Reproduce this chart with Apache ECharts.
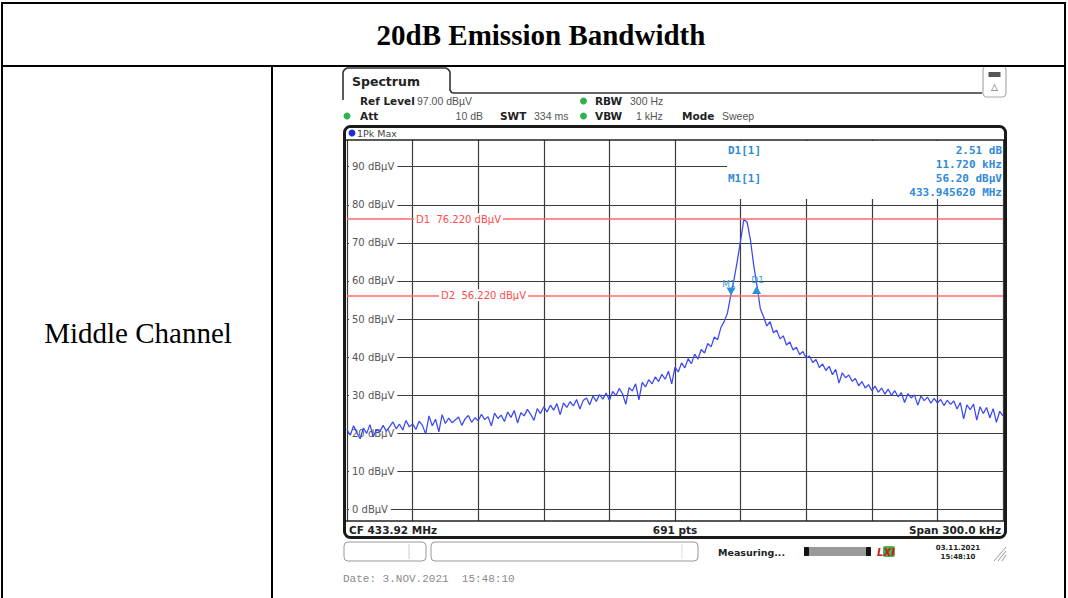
<!DOCTYPE html>
<html><head><meta charset="utf-8">
<script src="https://cdn.jsdelivr.net/npm/echarts@6/dist/echarts.min.js"></script>
<style>html,body{margin:0;padding:0;background:#fff;}#c{width:1068px;height:598px;}</style>
</head><body><div id="c"></div>
<script>
// ---------- data ----------
const titleText = '20dB Emission Bandwidth';
const rowLabel = 'Middle Channel';
const startKHz = -150;      // CF 433.92 MHz, span 300 kHz
const stepKHz = 1.5;
const level = [
 21.0,19.5,22.0,20.2,18.6,21.4,20.0,22.3,19.1,21.0,
 20.4,22.1,20.6,21.8,23.0,21.2,22.4,20.9,23.4,21.7,
 22.5,21.0,23.2,22.1,19.8,24.6,22.0,23.7,20.4,24.9,
 22.6,24.0,22.8,23.5,24.3,22.1,23.8,24.7,22.9,24.1,
 23.3,25.0,23.6,24.4,22.0,25.3,23.9,24.8,23.1,25.6,
 24.2,26.0,22.7,25.4,24.6,26.3,25.0,23.4,26.5,25.2,
 27.0,25.6,27.4,26.1,27.8,24.9,28.0,26.8,28.3,27.2,
 28.9,26.4,28.6,29.3,27.5,29.8,28.4,30.2,29.0,30.6,
 28.7,31.0,29.9,31.8,30.4,27.6,32.0,31.1,33.0,28.8,
 33.4,32.2,34.1,33.0,34.8,33.6,35.5,34.2,36.3,33.0,
 37.4,36.1,38.5,37.2,39.6,38.3,40.8,39.5,42.0,41.1,
 43.6,42.7,45.3,44.6,47.8,49.4,51.6,56.2,60.4,65.3,
 70.6,76.2,75.4,70.8,64.1,58.7,52.8,50.6,48.2,49.3,
 46.4,47.1,44.8,45.6,43.2,44.0,41.9,42.6,40.7,41.5,
 39.8,40.3,38.6,39.4,37.3,38.2,36.5,37.6,35.4,36.8,
 33.2,35.9,34.6,35.3,33.7,34.4,32.5,33.6,31.9,32.8,
 31.2,32.4,30.8,31.9,30.3,31.6,30.0,31.2,29.6,30.7,
 28.1,30.4,29.3,30.1,27.4,29.8,28.6,29.5,27.9,29.2,
 28.0,28.9,27.3,28.7,27.6,28.5,26.4,28.1,23.8,27.5,
 26.2,27.7,23.5,27.0,25.2,26.8,24.1,26.5,22.9,25.8,
 24.6
];
const yTicks = [0,10,20,30,40,50,60,70,80,90];
const displayLineNames = ['D1','D2'];
const displayLineValues = [76.22, 56.22];
const markerNames = ['M1','D1'];
const markerFreqKHz = [25.62, 37.34];
const markerLevel = [56.20, 58.71];
const markerInfoLeft = ['D1[1]','','M1[1]',''];
const markerInfoRight = ['2.51 dB','11.720 kHz','56.20 dBµV','433.945620 MHz'];

// ---------- helpers ----------
const SANS = '"DejaVu Sans"';
const VAL = '10.5px "Liberation Sans"';
function T(x,y,text,font,fill,align,va,z){return {type:'text',x:x,y:y,z:z||20,silent:true,style:{text:text,font:font,fill:fill||'#222',align:align||'left',verticalAlign:va||'middle'}};}
function L(x1,y1,x2,y2,stroke,w,z){return {type:'line',z:z||20,silent:true,shape:{x1:x1,y1:y1,x2:x2,y2:y2},style:{stroke:stroke||'#000',lineWidth:w||1}};}
function R(x,y,w,h,r,stroke,lw,fill,z){return {type:'rect',z:z||20,silent:true,shape:{x:x,y:y,width:w,height:h,r:r||0},style:{stroke:stroke||null,lineWidth:lw||1,fill:fill||'none'}};}
function C(cx,cy,r,fill,z){return {type:'circle',z:z||20,silent:true,shape:{cx:cx,cy:cy,r:r},style:{fill:fill}};}

const g = [];
// table
g.push(R(2,3,1063,610,0,'#000',2,'none',30));
g.push(L(2,66,1065,66,'#000',2,30));
g.push(L(272,66,272,598,'#000',2,30));
g.push(T(541,35,titleText,'bold 29px "Liberation Serif"','#000','center','middle',30));
g.push(T(138,333,rowLabel,'29px "Liberation Serif"','#000','center','middle',30));

// tab + header
g.push({type:'polyline',z:20,silent:true,shape:{points:[[343,100],[343,72],[344.5,69.5],[347,68],[446,68],[448.5,69.5],[450,72],[450,90],[451.5,92.5],[454,93],[982,93]]},style:{stroke:'#333',lineWidth:1.6,fill:null}});
g.push(T(352,81,'Spectrum','bold 12.5px '+SANS,'#222'));
g.push(R(983,66,23,31,4,'#aaa',1.2,'#fff'));
g.push(R(988.5,72,12,5,0,null,1,'#555'));
g.push(T(994.5,87,'△','9px '+SANS,'#555','center'));

g.push(T(360,101,'Ref Level','bold 10.5px '+SANS,'#222'));
g.push(T(417,101,'97.00 dBµV',VAL,'#555'));
g.push(C(583.5,101,3.5,'#33b050'));
g.push(T(595,101,'RBW','bold 10.5px '+SANS,'#222'));
g.push(T(630,101,'300 Hz',VAL,'#555'));
g.push(C(347,116,3.5,'#33b050'));
g.push(T(360,116,'Att','bold 10.5px '+SANS,'#222'));
g.push(T(483,116,'10 dB',VAL,'#555','right'));
g.push(T(500,116,'SWT','bold 10.5px '+SANS,'#222'));
g.push(T(534,116,'334 ms',VAL,'#555'));
g.push(C(583.5,116,3.5,'#33b050'));
g.push(T(595,116,'VBW','bold 10.5px '+SANS,'#222'));
g.push(T(636,116,'1 kHz',VAL,'#555'));
g.push(T(682,116,'Mode','bold 10.5px '+SANS,'#222'));
g.push(T(722,116,'Sweep',VAL,'#555'));

// display frame
g.push(R(344.5,126.5,661,411,6,'#1a1a1a',3,'none',25));
g.push(L(346,140,1004,140,'#222',1.5,25));
g.push(L(346,521,1004,521,'#222',1.5,25));
g.push(C(352,133,3.5,'#1a2fd8',25));
g.push(T(357,133,'1Pk Max','9.5px '+SANS,'#444','left','middle',25));
g.push(T(349,529.5,'CF 433.92 MHz','bold 10.5px '+SANS,'#222','left','middle',25));
g.push(T(675,529.5,'691 pts','bold 10.5px '+SANS,'#222','center','middle',25));
g.push(T(1001,529.5,'Span 300.0 kHz','bold 10.5px '+SANS,'#222','right','middle',25));

// marker info box
g.push(R(727,141,276,58,0,null,1,'#fff',6));
for (let i=0;i<4;i++){
  const y = 150 + i*14.3;
  if (markerInfoLeft[i]) g.push(T(728,y,markerInfoLeft[i],'bold 11px "DejaVu Sans Mono"','#2f8ad8','left','middle',7));
  g.push(T(1002,y,markerInfoRight[i],'bold 11px "DejaVu Sans Mono"','#2f8ad8','right','middle',7));
}

// status bar
g.push(R(344,542,82,19,4,'#999',1,'#fff'));
g.push(L(409,544,409,559,'#ccc',1));
g.push(R(431,542,267,19,4,'#999',1,'#fff'));
g.push(L(682,544,682,559,'#ddd',1));
g.push(T(718,552,'Measuring...','bold 9.5px '+SANS,'#222'));
g.push(R(804,547,67,9,1,null,1,'#9a9a9a'));
g.push(R(804,547,5,9,1,null,1,'#111'));
g.push(R(866,547,5,9,1,null,1,'#111'));
g.push(R(883,546,12,11,2,null,1,'#4caf50'));
g.push(T(886,552,'LXI','italic bold 10px '+SANS,'#c0201e','center'));
g.push(T(958,548,'03.11.2021','bold 7px '+SANS,'#222','center'));
g.push(T(958,556.5,'15:48:10','bold 7px '+SANS,'#222','center'));
g.push(L(1006,547,994,561,'#999',1));
g.push(L(1006,551,998,561,'#999',1));
g.push(L(1006,555,1002,561,'#999',1));
g.push(T(343,579,'Date: 3.NOV.2021  15:48:10','11px "Liberation Mono"','#8a8a8a'));

// ---------- chart ----------
const traceData = level.map((v,i)=>[startKHz + i*stepKHz, v]);
const chart = echarts.init(document.getElementById('c'), null, {renderer:'svg'});
chart.setOption({
  animation:false,
  backgroundColor:'#fff',
  grid:{left:347, top:140, width:656, height:381, containLabel:false},
  xAxis:{type:'value', min:-150, max:150, interval:30,
    axisLine:{show:false}, axisTick:{show:false}, axisLabel:{show:false},
    splitLine:{show:true, lineStyle:{color:'#3c3c3c', width:1.2}}},
  yAxis:{type:'value', min:-3, max:97,
    axisLine:{show:false},
    axisTick:{show:false, customValues:yTicks},
    axisLabel:{show:true, inside:true, margin:2, customValues:yTicks,
      formatter:v=>v+' dBµV', color:'#555', fontSize:10, fontFamily:'DejaVu Sans',
      backgroundColor:'#fff', padding:[1,3,1,3]},
    splitLine:{show:true, lineStyle:{color:'#3c3c3c', width:1.2}}},
  graphic:{elements:g},
  series:[{
    type:'line', data:traceData, showSymbol:false, symbol:'none', z:3,
    lineStyle:{color:'#3848f4', width:1.25},
    markLine:{
      silent:true, symbol:'none', animation:false,
      lineStyle:{color:'#ff6a6a', width:1.5, type:'solid'},
      label:{show:true, position:'insideStartTop', color:'#ff4a4a', fontSize:10, fontFamily:'DejaVu Sans',
        backgroundColor:'#fff', padding:[1,2,1,2]},
      data: displayLineNames.map((n,i)=>({yAxis:displayLineValues[i],
        label:{formatter:n+'  '+displayLineValues[i].toFixed(3)+' dBµV', distance:[i===0?67:92,-6]}}))
    },
    markPoint:{
      silent:true, animation:false,
      data: markerNames.map((n,i)=>({
        coord:[markerFreqKHz[i], markerLevel[i]],
        symbol:'triangle', symbolSize:[9,8],
        symbolRotate: i===0?180:0,
        symbolOffset:[0, i===0?-4:4],
        itemStyle:{color:'#2b8fe0'},
        label:{show:true, formatter:n, position:'top', offset:[i===0?-2:1, i===0?6:4],
          color:'#3a9ae0', fontSize:9, fontFamily:'DejaVu Sans'}
      }))
    }
  }]
});
</script></body></html>
